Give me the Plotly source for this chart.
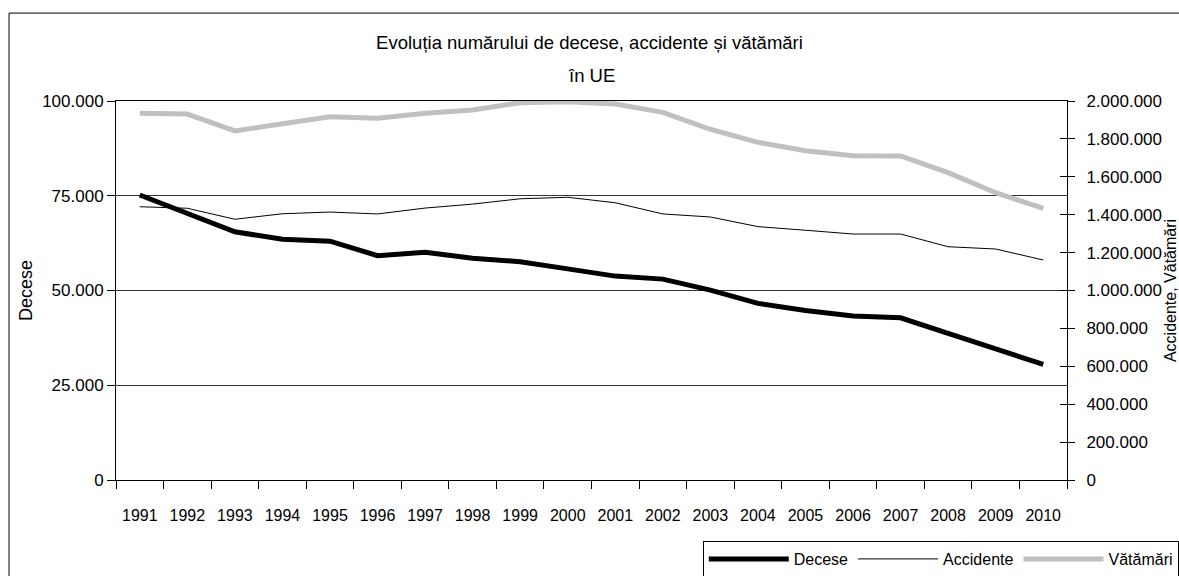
import plotly.graph_objects as go

years = [str(y) for y in range(1991, 2011)]
decese = [75200, 70400, 65500, 63500, 63000, 59200, 60100, 58500, 57600, 55700,
          53800, 53000, 50100, 46600, 44700, 43300, 42800, 38700, 34500, 30500]
accidente = [1442000, 1434000, 1376000, 1405000, 1414000, 1404000, 1435000, 1456000, 1484000, 1492000,
             1463000, 1404000, 1388000, 1337000, 1318000, 1298000, 1298000, 1231000, 1219000, 1161000]
vatamari = [1935000, 1931000, 1842000, 1882000, 1917000, 1909000, 1935000, 1953000, 1991000, 1996000,
            1984000, 1940000, 1851000, 1782000, 1738000, 1711000, 1710000, 1622000, 1516000, 1433000]

FONT = "Liberation Sans, Arial, sans-serif"

fig = go.Figure()
fig.add_trace(go.Scatter(x=years, y=decese, name="Decese", mode="lines",
                         line=dict(color="#000000", width=5), yaxis="y"))
fig.add_trace(go.Scatter(x=years, y=accidente, name="Accidente", mode="lines",
                         line=dict(color="#000000", width=1), yaxis="y2"))
fig.add_trace(go.Scatter(x=years, y=vatamari, name="Vătămări", mode="lines",
                         line=dict(color="#c0c0c0", width=5), yaxis="y2"))
# invisible trace to activate the inner-tick copy of the right axis
fig.add_trace(go.Scatter(x=years, y=vatamari, yaxis="y3", mode="lines",
                         line=dict(width=0), showlegend=False, hoverinfo="skip", opacity=0))

fig.update_layout(
    width=1179, height=576,
    margin=dict(l=116, r=112, t=101, b=96, autoexpand=False),
    paper_bgcolor="white", plot_bgcolor="white",
    separators=",.",
    font=dict(family=FONT, size=16, color="#000000"),
    title=dict(text="Evoluția numărului de decese, accidente și vătămări",
               x=0.5, xanchor="center", y=1 - 43 / 576, yanchor="middle",
               font=dict(family=FONT, size=18.5, color="#000000")),
    annotations=[dict(text="în UE", xref="paper", yref="paper", x=0.5, y=1.066,
                      xanchor="center", yanchor="middle", showarrow=False,
                      font=dict(family=FONT, size=18.5, color="#000000"))],
    showlegend=True,
    legend=dict(orientation="h", x=0.617, xanchor="left", y=-0.161, yanchor="top",
                bordercolor="#000000", borderwidth=1, bgcolor="white",
                font=dict(family=FONT, size=16), itemwidth=80, tracegroupgap=0),
    xaxis=dict(type="category", range=[-0.5, 19.5], showgrid=False, showline=True,
               linecolor="#000000", linewidth=1, mirror=True,
               ticks="outside", ticklen=8, tickcolor="#000000", tickson="boundaries",
               ticklabelstandoff=21, tickfont=dict(size=16)),
    yaxis=dict(range=[0, 100000], tickvals=[0, 25000, 50000, 75000, 100000],
               tickformat=",d", showgrid=True, gridcolor="#333333", gridwidth=1,
               showline=True, linecolor="#000000", linewidth=1, ticks="outside",
               ticklen=8, tickcolor="#000000", zeroline=False,
               title=dict(text="Decese", standoff=4, font=dict(size=18)),
               tickfont=dict(size=17)),
    yaxis2=dict(range=[0, 2000000], dtick=200000, tickformat=",d", overlaying="y", side="right",
                showgrid=False, showline=True, linecolor="#000000", linewidth=1,
                ticks="outside", ticklen=7, tickcolor="#000000", zeroline=False,
                ticklabelstandoff=8,
                title=dict(text="Accidente, Vătămări", standoff=0, font=dict(size=16)),
                tickfont=dict(size=17)),
    yaxis3=dict(range=[0, 2000000], dtick=200000, overlaying="y", side="right",
                showgrid=False, showline=False, showticklabels=False,
                ticks="inside", ticklen=7, tickcolor="#000000", zeroline=False),
)

# outer chart border
fig.add_shape(type="rect", xref="paper", yref="paper", x0=-0.1125, x1=1.25, y0=-0.35, y1=1.232,
              line=dict(color="#000000", width=1), layer="below")

fig.write_html("out.html", config={"displayModeBar": False},
               post_script="document.body.style.margin='0';document.body.style.overflow='hidden';")
